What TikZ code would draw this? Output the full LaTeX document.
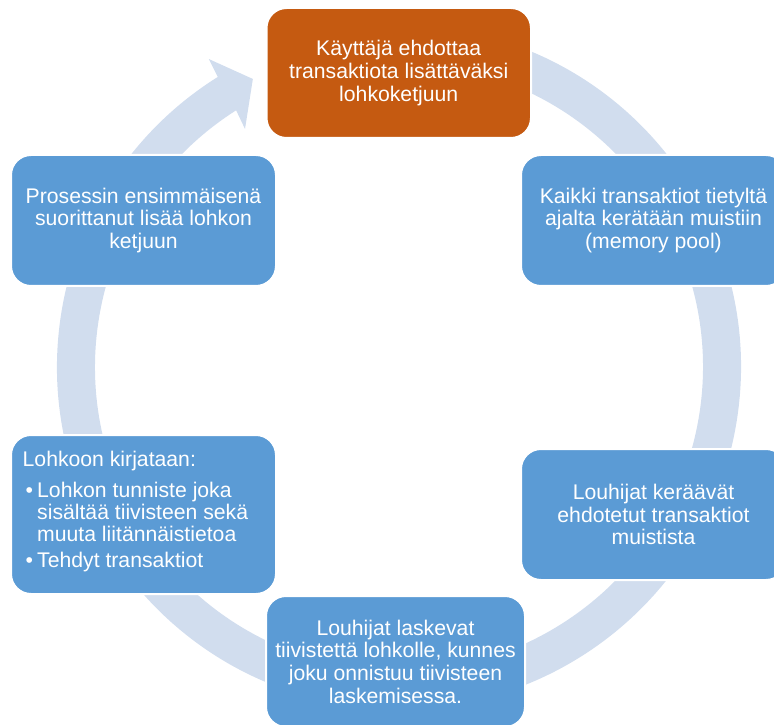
\documentclass[tikz,border=0pt]{standalone}
\usepackage{fontspec}
\setmainfont{Liberation Sans}
\definecolor{boxblue}{RGB}{91,155,213}
\definecolor{boxorange}{RGB}{197,90,17}
\definecolor{ringblue}{RGB}{209,221,238}
\begin{document}
\begin{tikzpicture}[x=1pt,y=1pt,
  stepbox/.style={rounded corners=20pt, fill=boxblue, draw=white, line width=2pt,
    text=white, align=center, font=\fontsize{21.2}{22.7}\selectfont, inner sep=0pt,
    minimum width=265pt, minimum height=131pt},
  linetext/.style={text=white, font=\fontsize{21.2}{22.7}\selectfont, inner sep=0pt, anchor=base west}]
\useasboundingbox (0,0) rectangle (774,724);
\clip (0,0) rectangle (774,724);
% circular arrow
\begin{scope}[shift={(399,357)}]
\fill[ringblue] (80:342) arc[start angle=80, end angle=-238, radius=342]
  -- (121.7:362) -- (116.9:323) -- (122.9:283.5) -- (-237.6:304)
  arc[start angle=-237.6, end angle=80, radius=304] -- cycle;
\end{scope}
% boxes
\node[stepbox, fill=boxorange, minimum width=264.5pt, minimum height=130pt] (top) at (398.75,651)
  {Käyttäjä ehdottaa\\transaktiota lisättäväksi\\lohkoketjuun};
\node[stepbox] (rtop) at (653.5,503.5)
  {Kaikki transaktiot tietyltä\\ajalta kerätään muistiin\\(memory pool)};
\node[stepbox] (rbot) at (653.5,209.5)
  {Louhijat keräävät\\ehdotetut transaktiot\\muistista};
\node[stepbox, minimum width=259pt] (bot) at (395.5,62.5)
  {Louhijat laskevat\\tiivistettä lohkolle, kunnes\\joku onnistuu tiivisteen\\laskemisessa.};
\node[stepbox, minimum height=159pt] (lbot) at (143.5,209.5) {};
\node[stepbox] (ltop) at (143.5,503.5)
  {Prosessin ensimmäisenä\\suorittanut lisää lohkon\\ketjuun};
% text of the left bottom box
\node[linetext] (lh) at (22.5,257.3) {Lohkoon kirjataan:};
\node[linetext] (l1) at (25.5,226.7) {\makebox[11.5pt][l]{•}Lohkon tunniste joka};
\node[linetext] (l2) at (37,205) {sisältää tiivisteen sekä};
\node[linetext] (l3) at (37,183) {muuta liitännäistietoa};
\node[linetext] (l4) at (25.5,157) {\makebox[11.5pt][l]{•}Tehdyt transaktiot};
\end{tikzpicture}
\end{document}
